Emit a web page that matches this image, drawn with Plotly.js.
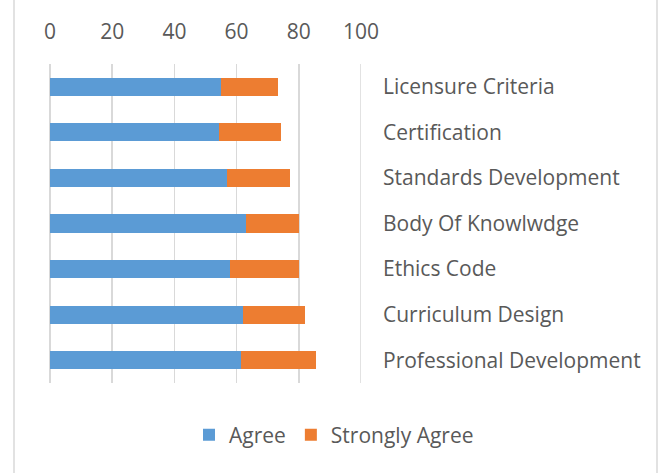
<!DOCTYPE html>
<html>
<head>
<meta charset="utf-8">
<script src="https://cdn.plot.ly/plotly-3.0.1.min.js"></script>
<style>
  body { margin: 0; background: #fff; }
  #chart { width: 662px; height: 473px; }
</style>
</head>
<body>
<div id="chart"></div>
<script>
/* chart data */
var categories = ['Licensure Criteria', 'Certification', 'Standards Development',
    'Body Of Knowlwdge', 'Ethics Code', 'Curriculum Design', 'Professional Development'];
var agree = [55, 54.3, 57, 63, 58, 62, 61.4];
var stronglyAgree = [18.2, 20, 20.2, 17, 22, 20, 24.1];
var xTicks = [0, 20, 40, 60, 80, 100];

const W = 662, H = 473;
const M = {l: 50, r: 301, t: 64, b: 90};
const TEXT = '#595959';
const GRID = '#d9d9d9';
const FS = 21;

/* border lines of the original chart frame, in paper units */
const plotW = W - M.l - M.r, plotH = H - M.t - M.b;
function px2x(px) { return (px - M.l) / plotW; }
function py2y(py) { return (H - M.b - py) / plotH; }

var traces = [{
    type: 'bar',
    orientation: 'h',
    name: 'Agree',
    y: categories,
    x: agree,
    marker: {color: '#5b9bd5'}
},
{
    type: 'bar',
    orientation: 'h',
    name: 'Strongly Agree',
    y: categories,
    x: stronglyAgree,
    marker: {color: '#ed7d31'}
}];

var layout = {
    width: W,
    height: H,
    margin: M,
    barmode: 'stack',
    bargap: 0.6,
    paper_bgcolor: '#fff',
    plot_bgcolor: '#fff',
    font: {family: 'Open Sans', size: FS, color: TEXT},
    xaxis: {
        side: 'top',
        range: [0, 100],
        tickvals: xTicks,
        ticktext: xTicks.map(String),
        showgrid: true,
        gridcolor: GRID,
        gridwidth: 1.5,
        zeroline: true,
        zerolinecolor: GRID,
        zerolinewidth: 1.5,
        showline: false,
        ticks: '',
        ticklabelstandoff: 20,
        fixedrange: true
    },
    yaxis: {
        type: 'category',
        side: 'right',
        autorange: 'reversed',
        showgrid: false,
        zeroline: false,
        showline: false,
        ticks: '',
        ticklabelstandoff: 21,
        fixedrange: true
    },
    legend: {
        orientation: 'h',
        xref: 'container',
        yref: 'container',
        x: 334 / W,
        xanchor: 'center',
        y: 1 - 435 / H,
        yanchor: 'middle',
        font: {size: FS, color: TEXT},
        traceorder: 'normal'
    },
    shapes: [
        /* last gridline, plotly drops the one at the range edge */
        {type: 'line', xref: 'x', yref: 'paper', layer: 'below',
         x0: xTicks[xTicks.length - 1], x1: xTicks[xTicks.length - 1],
         y0: 0, y1: 1, line: {color: GRID, width: 1.5}},
        {type: 'line', xref: 'paper', yref: 'paper', x0: px2x(14), x1: px2x(14),
         y0: py2y(H), y1: py2y(0), line: {color: GRID, width: 1.5}},
        {type: 'line', xref: 'paper', yref: 'paper', x0: px2x(657), x1: px2x(657),
         y0: py2y(H), y1: py2y(0), line: {color: GRID, width: 1.5}}
    ]
};

Plotly.newPlot('chart', traces, layout, {displayModeBar: false, staticPlot: true});
</script>
</body>
</html>
